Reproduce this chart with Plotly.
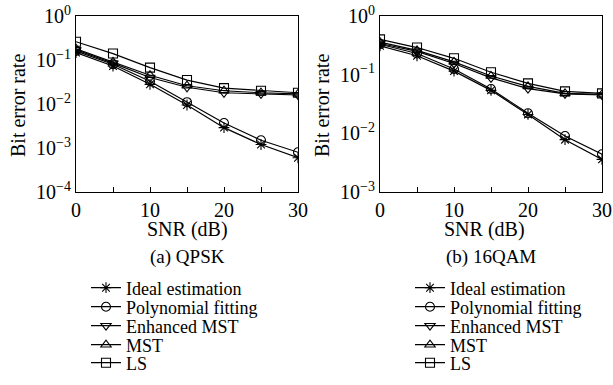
import plotly.graph_objects as go

snr = [0, 5, 10, 15, 20, 25, 30]
names = ["Ideal estimation", "Polynomial fitting", "Enhanced MST", "MST", "LS"]
symbols = ["asterisk-open", "circle-open", "triangle-down-open", "triangle-up-open", "square-open"]

qpsk_ideal = [0.147, 0.073, 0.028, 0.0095, 0.0029, 0.0012, 0.0006]
qpsk_poly = [0.16, 0.08, 0.033, 0.011, 0.0037, 0.0015, 0.0008]
qpsk_emst = [0.17, 0.085, 0.04, 0.024, 0.018, 0.017, 0.016]
qpsk_mst = [0.18, 0.09, 0.045, 0.026, 0.02, 0.018, 0.017]
qpsk_ls = [0.26, 0.14, 0.067, 0.035, 0.023, 0.02, 0.018]

qam_ideal = [0.31, 0.21, 0.115, 0.054, 0.021, 0.0078, 0.0036]
qam_poly = [0.33, 0.23, 0.125, 0.057, 0.022, 0.009, 0.0044]
qam_emst = [0.34, 0.25, 0.155, 0.088, 0.058, 0.047, 0.045]
qam_mst = [0.36, 0.26, 0.165, 0.095, 0.063, 0.048, 0.046]
qam_ls = [0.40, 0.29, 0.19, 0.11, 0.071, 0.052, 0.048]

qpsk = [qpsk_ideal, qpsk_poly, qpsk_emst, qpsk_mst, qpsk_ls]
qam = [qam_ideal, qam_poly, qam_emst, qam_mst, qam_ls]

x_tickvals = [0, 5, 10, 15, 20, 25, 30]
x_ticktext = ["0", "", "10", "", "20", "", "30"]
y_ticks_left = [1e-4, 1e-3, 1e-2, 1e-1, 1]
y_text_left = ["10<sup>−4</sup>", "10<sup>−3</sup>", "10<sup>−2</sup>", "10<sup>−1</sup>", "10<sup>0</sup>"]
y_ticks_right = [1e-3, 1e-2, 1e-1, 1]
y_text_right = ["10<sup>−3</sup>", "10<sup>−2</sup>", "10<sup>−1</sup>", "10<sup>0</sup>"]

FONT = "Liberation Serif"
W, H = 613, 385
fig = go.Figure()

row_y = [288, 307, 326, 345, 363]
leg_x = [86, 410]

layout_legends = {}
n = 0
for p, (data, xa, ya) in enumerate([(qpsk, "x", "y"), (qam, "x2", "y2")]):
    for i, (nm, sym, vals) in enumerate(zip(names, symbols, data)):
        n += 1
        lname = "legend" if n == 1 else f"legend{n}"
        fig.add_trace(go.Scatter(
            x=snr, y=vals, name=nm, mode="lines+markers",
            line=dict(color="black", width=1.2),
            marker=dict(symbol=sym, size=9, color="black", line=dict(width=1.1, color="black")),
            xaxis=xa, yaxis=ya, legend=lname, showlegend=True))
        layout_legends[lname] = dict(
            x=leg_x[p] / W, y=1 - row_y[i] / H, xanchor="left", yanchor="middle",
            bgcolor="rgba(0,0,0,0)", borderwidth=0,
            font=dict(family=FONT, size=18, color="black"),
            itemwidth=30, tracegroupgap=0)

ax_common = dict(showline=True, linecolor="black", linewidth=1.2, mirror=True,
                 showgrid=False, zeroline=False, automargin=False,
                 ticklabeloverflow="allow",
                 tickfont=dict(family=FONT, size=20, color="black"))

def ann(text, x, y, size=20, angle=0):
    return dict(text=text, x=x / W, y=1 - y / H, xref="paper", yref="paper",
                showarrow=False, font=dict(family=FONT, size=size, color="black"),
                xanchor="center", yanchor="middle", textangle=angle)

fig.update_layout(
    template="none",
    width=W, height=H, margin=dict(l=0, r=0, t=0, b=0, autoexpand=False),
    paper_bgcolor="white", plot_bgcolor="white",
    font=dict(family=FONT, size=18, color="black"),
    xaxis=dict(domain=[76 / W, 298 / W], range=[0, 30], tickvals=x_tickvals,
               ticktext=x_ticktext, ticks="inside", ticklen=5,
               tickcolor="black", anchor="y", **ax_common),
    yaxis=dict(domain=[1 - 192 / H, 1 - 16 / H], type="log", range=[-4, 0],
               tickvals=y_ticks_left, ticktext=y_text_left, ticks="", anchor="x", **ax_common),
    xaxis2=dict(domain=[380 / W, 602 / W], range=[0, 30], tickvals=x_tickvals,
                ticktext=x_ticktext, ticks="inside", ticklen=5,
                tickcolor="black", anchor="y2", **ax_common),
    yaxis2=dict(domain=[1 - 192 / H, 1 - 16 / H], type="log", range=[-3, 0],
                tickvals=y_ticks_right, ticktext=y_text_right, ticks="", anchor="x2", **ax_common),
    annotations=[
        ann("SNR (dB)", 187, 229),
        ann("SNR (dB)", 484, 229),
        ann("Bit error rate", 18, 106, angle=-90),
        ann("Bit error rate", 322, 106, angle=-90),
        ann("(a) QPSK", 187, 257, size=19),
        ann("(b) 16QAM", 491, 257, size=19),
    ],
    **layout_legends,
)

fig.write_html("out.html", config={"displayModeBar": False},
               post_script="document.body.style.margin='0';document.body.style.overflow='hidden';")
